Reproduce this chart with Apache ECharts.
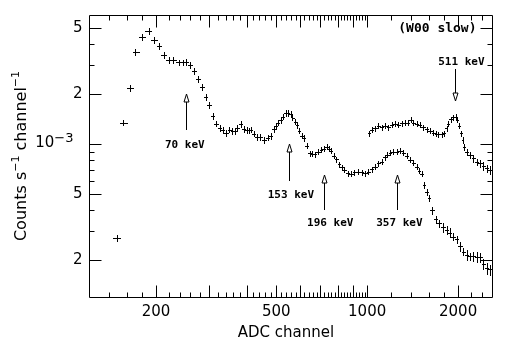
<!DOCTYPE html>
<html>
<head>
<meta charset="utf-8">
<script src="https://cdn.jsdelivr.net/npm/echarts@6/dist/echarts.min.js"></script>
<style>
  html, body { margin: 0; padding: 0; background: #fff; }
  #chart { width: 526px; height: 351px; }
</style>
</head>
<body>
<div id="chart"></div>
<script>
// lower spectrum, ADC channel vs counts s^-1 channel^-1 (y in units of 1e-3)
var lowX = [148, 156, 164, 171, 180, 189, 197, 205, 212, 221, 228, 238, 245, 251, 259, 267, 276, 284, 292, 300,
  308, 316, 325, 333, 341, 349, 358, 366, 372, 382, 390, 400, 407, 412, 421, 431, 442, 456, 468, 480,
  492, 499, 507, 518, 527, 538, 547, 558, 566, 576, 586, 595, 607, 617, 630, 646, 657, 671, 688, 703,
  717, 734, 749, 758, 774, 790, 808, 823, 839, 861, 883, 906, 934, 958, 983, 1008, 1034, 1061, 1087, 1116,
  1144, 1165, 1189, 1219, 1251, 1283, 1316, 1350, 1385, 1420, 1457, 1486, 1514, 1544, 1573, 1600, 1641, 1688, 1731, 1777,
  1832, 1878, 1926, 1977, 2028, 2079, 2134, 2188, 2244, 2303, 2362, 2422, 2485, 2549];
var lowY = [0.271, 1.35, 2.17, 3.59, 4.44, 4.81, 4.24, 3.90, 3.44, 3.21, 3.21, 3.11, 3.11, 3.13, 3.00, 2.76, 2.47, 2.21, 1.92, 1.715,
  1.476, 1.331, 1.249, 1.215, 1.170, 1.225, 1.203, 1.203, 1.249, 1.326, 1.232, 1.215, 1.21, 1.225, 1.159, 1.111, 1.111, 1.057, 1.096, 1.117,
  1.232, 1.289, 1.350, 1.402, 1.467, 1.539, 1.539, 1.517, 1.447, 1.369, 1.308, 1.208, 1.127, 1.087, 0.981, 0.882, 0.874, 0.870, 0.902, 0.924,
  0.937, 0.967, 0.937, 0.911, 0.853, 0.812, 0.757, 0.726, 0.700, 0.668, 0.662, 0.678, 0.683, 0.678, 0.668, 0.683, 0.707, 0.732, 0.768, 0.785,
  0.835, 0.862, 0.890, 0.902, 0.902, 0.915, 0.890, 0.850, 0.804, 0.774, 0.732, 0.693, 0.662, 0.568, 0.518, 0.472, 0.401, 0.353, 0.334, 0.3155,
  0.304, 0.293, 0.277, 0.267, 0.2433, 0.2248, 0.2147, 0.2118, 0.2118, 0.2097, 0.2080, 0.1895, 0.1793, 0.176];
// error bar, percent
var lowErr = [4, 4, 4, 4, 4, 4, 4, 4, 4, 4, 4, 4, 4, 4, 4, 4, 4, 4, 4, 4,
  4, 4, 4, 4, 4, 4, 4, 4, 4, 4, 4, 4, 4, 4, 4, 4, 4, 4, 4, 4,
  4, 4, 4, 4, 4, 4, 4, 4, 4, 4, 4, 4, 4, 4, 3.5, 3.5, 3.5, 3.5, 3.5, 3.5,
  3.5, 3.5, 3.5, 3.5, 3.5, 3.5, 3.5, 3.5, 3.5, 3.5, 3.5, 3.5, 3.5, 3.5, 3.5, 3.5, 3.5, 3.5, 3.5, 3.5,
  3.5, 3.5, 3.5, 3.5, 3.5, 3.5, 3.5, 3.5, 3.5, 3.5, 3.5, 3.5, 3.5, 4, 4, 4, 5, 5, 5, 6,
  5, 6, 5, 5, 6, 5, 7, 5, 6, 7, 6, 7, 8, 7];

// upper spectrum (starts near channel 1000)
var highX = [1015, 1034, 1061, 1087, 1116, 1144, 1174, 1205, 1235, 1267, 1300, 1333, 1367, 1395, 1420, 1457, 1494, 1532, 1573, 1613,
  1654, 1692, 1718, 1763, 1795, 1832, 1854, 1889, 1926, 1962, 1986, 2017, 2043, 2070, 2095, 2134, 2188, 2244, 2303, 2362,
  2422, 2485, 2549];
var highY = [1.165, 1.220, 1.249, 1.289, 1.266, 1.289, 1.266, 1.308, 1.326, 1.313, 1.339, 1.350, 1.350, 1.402, 1.350, 1.326, 1.308, 1.266, 1.232, 1.208,
  1.175, 1.154, 1.149, 1.149, 1.165, 1.249, 1.326, 1.415, 1.455, 1.467, 1.402, 1.289, 1.165, 1.062, 0.967, 0.902, 0.862, 0.823, 0.785, 0.768,
  0.740, 0.716, 0.700];
var highErr = [3.5, 3.5, 3.5, 3.5, 3.5, 3.5, 3.5, 3.5, 3.5, 3.5, 3.5, 3.5, 3.5, 3.5, 3.5, 3.5, 3.5, 3.5, 3.5, 3.5,
  3.5, 3.5, 3.5, 3.5, 3.5, 3.5, 3.5, 3.5, 3.5, 3.5, 3.5, 3.5, 3.5, 4, 4, 4, 4, 5, 4, 5,
  5, 5, 6];

var xMin = 120, xMax = 2590;
var yMin = 1.2e-4, yMax = 6e-3;
var xLabelVals = [200, 500, 1000, 2000];
var yLabelVals = [2e-4, 5e-4, 1e-3, 2e-3, 5e-3];
var yLabelText = ['2', '5', '10{sup|\u22123}', '2', '5'];
var xMajorTicks = [200, 300, 400, 500, 600, 700, 800, 900, 1000, 2000];
var yMajorTicks = [2e-4, 5e-4, 1e-3, 2e-3, 5e-3];
var yMinorTicks = [3e-4, 4e-4, 6e-4, 7e-4, 8e-4, 9e-4, 3e-3, 4e-3];

// line annotations: arrow at channel x, from tail to tip (counts), label below/above
var marks = [
  { text: '70 keV', x: 251, tip: 2.0e-3, tail: 1.21e-3, lx: 249, ly: 0.99e-3 },
  { text: '153 keV', x: 552, tip: 1.0e-3, tail: 0.603e-3, lx: 559, ly: 0.49e-3 },
  { text: '196 keV', x: 719, tip: 0.653e-3, tail: 0.401e-3, lx: 755, ly: 0.334e-3 },
  { text: '357 keV', x: 1251, tip: 0.653e-3, tail: 0.401e-3, lx: 1278, ly: 0.334e-3 },
  { text: '511 keV', x: 1951, tip: 1.81e-3, tail: 2.84e-3, lx: 2051, ly: 3.13e-3 }
];
var note = { text: '(W00 slow)', x: 1708, y: 4.94e-3 };

function binData(xs, ys, errs) {
  var out = [];
  for (var i = 0; i < xs.length; i++) {
    var lo = i > 0 ? Math.sqrt(xs[i - 1] * xs[i]) : xs[0] * xs[0] / Math.sqrt(xs[0] * xs[1]);
    var hi = i < xs.length - 1 ? Math.sqrt(xs[i] * xs[i + 1]) : xs[i] * xs[i] / Math.sqrt(xs[i - 1] * xs[i]);
    var y = ys[i] * 1e-3, e = errs[i] / 100;
    out.push([xs[i], y, lo, hi, y * (1 - e), y * (1 + e)]);
  }
  return out;
}

function seg(x1, y1, x2, y2) {
  return { type: 'line', shape: { x1: x1, y1: y1, x2: x2, y2: y2 }, style: { stroke: '#000', lineWidth: 1 } };
}

function renderCross(params, api) {
  var c = api.coord([api.value(0), api.value(1)]);
  var l = api.coord([api.value(2), api.value(1)]);
  var r = api.coord([api.value(3), api.value(1)]);
  var b = api.coord([api.value(0), api.value(4)]);
  var t = api.coord([api.value(0), api.value(5)]);
  var cx = Math.round(c[0]) + 0.5, cy = Math.round(c[1]) + 0.5;
  return {
    type: 'group',
    children: [
      seg(Math.round(l[0]), cy, Math.round(r[0]) + 1, cy),
      seg(cx, Math.round(t[1]), cx, Math.round(b[1]) + 1)
    ]
  };
}

var labelFont = 'DejaVu Sans';

function renderFrame(params, api) {
  var cs = params.coordSys;
  var x0 = Math.round(cs.x) + 0.5, y0 = Math.round(cs.y) + 0.5;
  var x1 = Math.round(cs.x + cs.width) + 0.5, y1 = Math.round(cs.y + cs.height) + 0.5;
  var kids = [{
    type: 'rect', shape: { x: x0, y: y0, width: x1 - x0, height: y1 - y0 },
    style: { fill: null, stroke: '#000', lineWidth: 1 }
  }];
  function px(v) { return Math.round(api.coord([v, yMin])[0]) + 0.5; }
  function py(v) { return Math.round(api.coord([xMin, v])[1]) + 0.5; }

  var xTicks = xMajorTicks.map(function (v) { return [v, 12]; });
  for (var v = 140; v < 1000; v += 20) if (v % 100) xTicks.push([v, 5]);
  for (v = 1200; v < xMax; v += 200) if (v % 1000) xTicks.push([v, 5]);
  xTicks.forEach(function (t) {
    var x = px(t[0]);
    kids.push(seg(x, y1, x, y1 - t[1]));
    kids.push(seg(x, y0, x, y0 + t[1]));
  });
  var yTicks = yMajorTicks.map(function (v) { return [v, 12]; })
    .concat(yMinorTicks.map(function (v) { return [v, 5]; }));
  yTicks.forEach(function (t) {
    var y = py(t[0]);
    kids.push(seg(x0, y, x0 + t[1], y));
    kids.push(seg(x1, y, x1 - t[1], y));
  });

  xLabelVals.forEach(function (v) {
    kids.push({
      type: 'text',
      style: {
        x: api.coord([v, yMin])[0], y: y1 + 15, text: String(v),
        fontFamily: labelFont, fontSize: 15, fill: '#000', align: 'center', verticalAlign: 'middle'
      }
    });
  });
  yLabelVals.forEach(function (v, i) {
    var big = yLabelText[i].length > 2;
    kids.push({
      type: 'text',
      style: {
        x: big ? x0 - 16 : x0 - 7, y: api.coord([xMin, v])[1] + (big ? -1 : 0), text: yLabelText[i],
        fontFamily: labelFont, fontSize: 15, lineHeight: 22, fill: '#000', align: 'right', verticalAlign: 'middle',
        rich: { sup: { fontFamily: labelFont, fontSize: 13, lineHeight: 13, verticalAlign: 'top' } }
      }
    });
  });

  var markFont = 'bold 11px "DejaVu Sans Mono"';
  marks.forEach(function (m) {
    var x = Math.round(api.coord([m.x, m.tip])[0]) + 0.5;
    var tipY = Math.round(api.coord([m.x, m.tip])[1]);
    var tailY = Math.round(api.coord([m.x, m.tail])[1]);
    var dir = tailY > tipY ? 1 : -1;
    var baseY = tipY + dir * 8;
    kids.push(seg(x, baseY, x, tailY));
    kids.push({
      type: 'polygon',
      shape: { points: [[x, tipY], [x - 2.5, baseY], [x + 2.5, baseY]] },
      style: { fill: '#fff', stroke: '#000', lineWidth: 1 }
    });
    var lp = api.coord([m.lx, m.ly]);
    kids.push({
      type: 'text',
      style: { x: lp[0], y: lp[1], text: m.text, font: markFont, fill: '#000', align: 'center', verticalAlign: 'middle' }
    });
  });
  var np = api.coord([note.x, note.y]);
  kids.push({
    type: 'text',
    style: { x: np[0], y: np[1], text: note.text, font: 'bold 13px "DejaVu Sans Mono"', fill: '#000', align: 'center', verticalAlign: 'middle' }
  });
  return { type: 'group', children: kids };
}

var chart = echarts.init(document.getElementById('chart'), null, { renderer: 'canvas' });
chart.setOption({
  animation: false,
  backgroundColor: '#fff',
  grid: { left: 89, top: 15, width: 403, height: 282, show: false },
  xAxis: {
    type: 'log', min: xMin, max: xMax, logBase: 10,
    axisLine: { show: false }, axisTick: { show: false }, axisLabel: { show: false }, splitLine: { show: false }
  },
  yAxis: {
    type: 'log', min: yMin, max: yMax, logBase: 10,
    axisLine: { show: false }, axisTick: { show: false }, axisLabel: { show: false }, splitLine: { show: false }
  },
  graphic: [
    {
      type: 'text', x: 286, y: 333,
      style: { text: 'ADC channel', fontFamily: labelFont, fontSize: 15, fill: '#000', align: 'center', verticalAlign: 'middle' }
    },
    {
      type: 'text', x: 22, y: 156, rotation: Math.PI / 2,
      style: {
        text: 'Counts s{sup|\u22121} channel{sup|\u22121}', fontFamily: labelFont, fontSize: 16, lineHeight: 22,
        fill: '#000', align: 'center', verticalAlign: 'middle',
        rich: { sup: { fontFamily: labelFont, fontSize: 11, lineHeight: 11, verticalAlign: 'top' } }
      }
    }
  ],
  series: [
    {
      type: 'custom', silent: true, clip: false,
      data: [[1000, 1e-3]],
      renderItem: renderFrame
    },
    {
      type: 'custom', silent: true,
      data: binData(lowX, lowY, lowErr),
      encode: { x: 0, y: 1 },
      renderItem: renderCross
    },
    {
      type: 'custom', silent: true,
      data: binData(highX, highY, highErr),
      encode: { x: 0, y: 1 },
      renderItem: renderCross
    }
  ]
});
</script>
</body>
</html>
